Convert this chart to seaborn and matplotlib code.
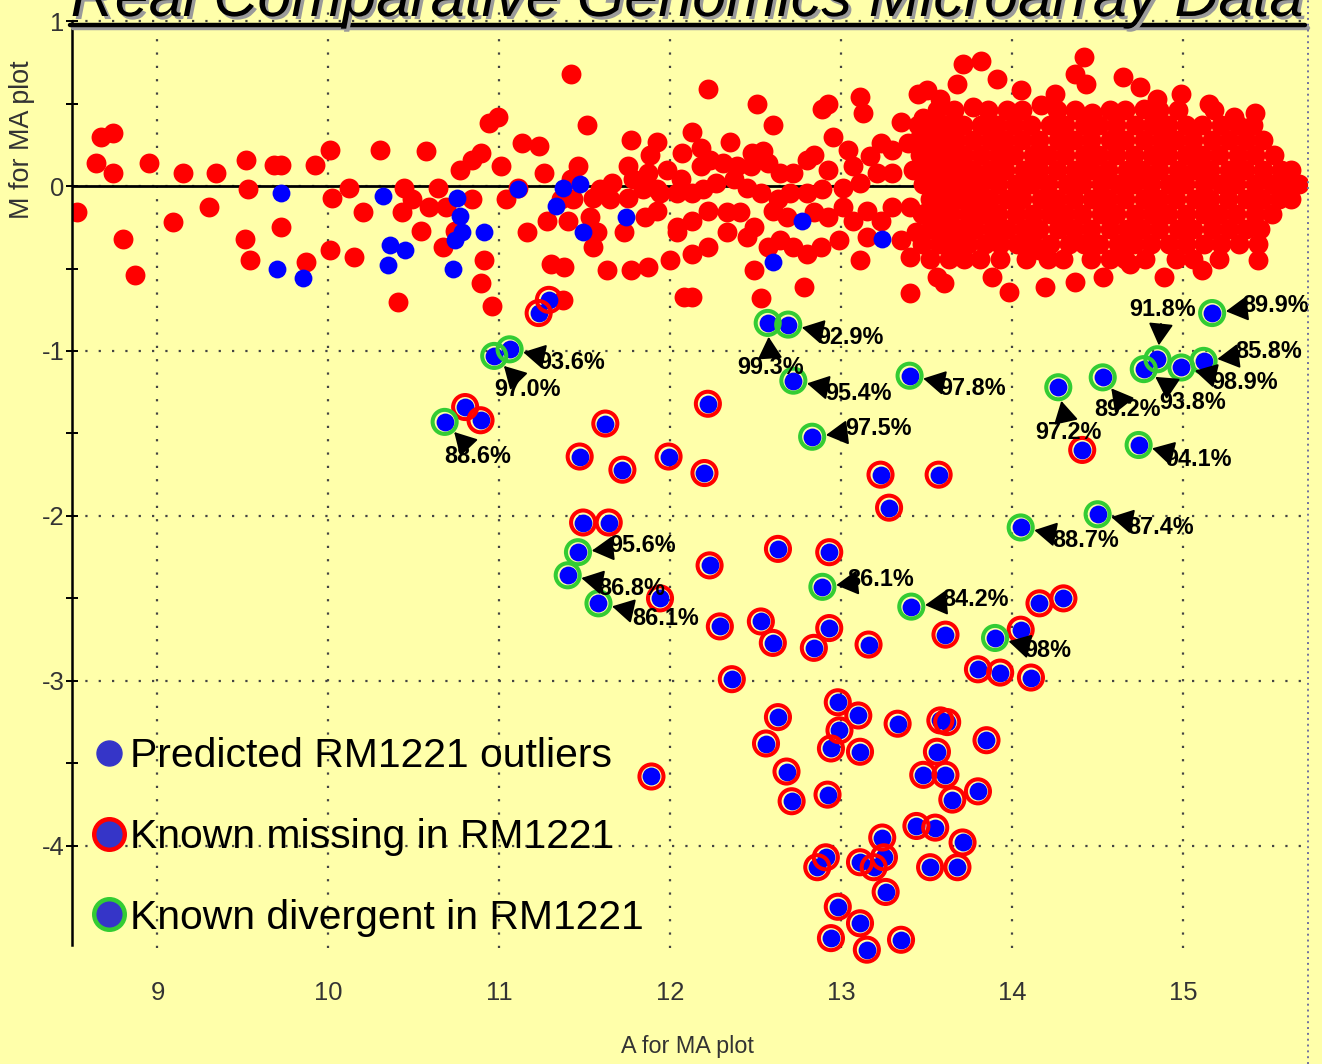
import matplotlib
matplotlib.use("Agg")
import numpy as np
import pandas as pd
import matplotlib.pyplot as plt
import matplotlib.patheffects as pe
from matplotlib.lines import Line2D
from matplotlib import font_manager
import seaborn as sns

# ---------------------------------------------------------------- data
# dense part of the red background cloud: one M value per row, A values per row
cloud_row_m = [0.46, 0.37, 0.28, 0.19, 0.10, 0.01, -0.08, -0.17, -0.26, -0.35, -0.44]
cloud_row_a = [
    [13.56, 13.66, 13.86, 13.97, 14.06, 14.26, 14.37, 14.57, 14.66, 14.86, 14.97, 15.18],
    [13.45, 13.53, 13.62, 13.71, 13.82, 13.91, 14.01, 14.11, 14.22, 14.31, 14.42, 14.51, 14.61, 14.72, 14.82, 14.91, 15.02, 15.11, 15.22, 15.32, 15.41],
    [13.50, 13.58, 13.67, 13.77, 13.87, 13.96, 14.06, 14.16, 14.27, 14.36, 14.46, 14.57, 14.66, 14.77, 14.87, 14.96, 15.06, 15.17, 15.27, 15.37, 15.47],
    [13.46, 13.55, 13.63, 13.72, 13.82, 13.92, 14.01, 14.12, 14.21, 14.31, 14.42, 14.51, 14.61, 14.71, 14.82, 14.91, 15.02, 15.11, 15.21, 15.32, 15.42, 15.53],
    [13.51, 13.60, 13.68, 13.77, 13.87, 13.96, 14.07, 14.16, 14.26, 14.37, 14.46, 14.56, 14.67, 14.76, 14.86, 14.97, 15.07, 15.16, 15.27, 15.36, 15.47, 15.57, 15.63],
    [13.48, 13.56, 13.64, 13.73, 13.82, 13.92, 14.02, 14.11, 14.21, 14.32, 14.41, 14.52, 14.62, 14.71, 14.81, 14.92, 15.01, 15.12, 15.22, 15.31, 15.42, 15.52, 15.61, 15.68],
    [13.52, 13.60, 13.69, 13.78, 13.87, 13.97, 14.06, 14.17, 14.26, 14.36, 14.47, 14.56, 14.66, 14.77, 14.86, 14.96, 15.07, 15.16, 15.26, 15.37, 15.46, 15.56, 15.63],
    [13.47, 13.56, 13.64, 13.74, 13.83, 13.92, 14.02, 14.12, 14.22, 14.31, 14.41, 14.52, 14.61, 14.72, 14.82, 14.91, 15.02, 15.12, 15.21, 15.31, 15.42, 15.52],
    [13.52, 13.61, 13.70, 13.78, 13.88, 13.97, 14.07, 14.16, 14.27, 14.36, 14.46, 14.57, 14.67, 14.76, 14.86, 14.97, 15.06, 15.17, 15.27, 15.37, 15.45],
    [13.47, 13.57, 13.66, 13.74, 13.84, 13.93, 14.03, 14.12, 14.22, 14.33, 14.42, 14.51, 14.62, 14.71, 14.81, 14.92, 15.02, 15.12, 15.22, 15.33],
    [13.52, 13.63, 13.72, 13.81, 13.93, 14.08, 14.21, 14.30, 14.46, 14.57, 14.66, 14.78, 14.96, 15.06, 15.21],
]

# scattered red background points (A, M)
red_left = [
    (8.53, -0.16), (8.64, 0.14), (8.67, 0.30), (8.74, 0.32), (8.74, 0.08), (8.80, -0.32), (8.87, -0.54),
    (8.95, 0.14), (9.09, -0.22), (9.15, 0.08), (9.30, -0.13), (9.34, 0.08), (9.52, 0.16), (9.53, -0.02),
    (9.51, -0.32), (9.54, -0.45), (9.68, 0.13), (9.72, 0.13), (9.72, -0.25), (9.87, -0.46), (9.92, 0.13),
    (10.01, 0.22), (10.02, -0.07), (10.01, -0.39), (10.15, -0.43), (10.12, -0.01), (10.20, -0.16),
    (10.30, 0.22), (10.41, -0.70), (10.44, -0.01), (10.43, -0.16), (10.57, 0.21), (10.54, -0.27),
    (10.67, -0.37), (10.64, -0.01), (10.77, 0.10), (10.84, 0.16), (10.89, 0.20), (10.94, 0.38),
    (10.99, 0.42), (10.96, -0.73), (10.89, -0.59), (11.01, 0.12), (11.04, -0.08), (11.13, 0.26),
    (11.23, 0.24), (11.16, -0.28), (11.28, -0.21), (11.30, -0.47), (11.38, -0.49), (11.42, 0.68),
    (11.51, 0.37), (11.46, 0.12), (11.53, -0.19), (11.55, -0.37), (11.63, -0.51), (11.77, 0.28),
    (11.77, -0.51), (11.87, -0.49), (11.73, -0.28), (11.85, -0.19), (11.92, -0.02), (10.91, -0.45),
    (10.74, -0.27), (11.11, -0.01), (11.26, 0.08), (11.36, -0.08), (10.84, -0.08), (10.69, -0.13),
    (10.49, -0.08), (10.59, -0.13),
]
red_mid = [
    (11.92, 0.27), (12.13, 0.33), (12.22, 0.59), (12.51, 0.50), (12.60, 0.37), (12.89, 0.47), (12.92, 0.50),
    (13.11, 0.54), (13.13, 0.44), (13.35, 0.39), (13.45, 0.56), (13.48, 0.41), (12.95, 0.30), (12.84, 0.19),
    (12.35, 0.27), (12.48, 0.20), (12.54, 0.21), (12.18, 0.23), (12.07, 0.20), (11.88, 0.19), (11.75, 0.12),
    (11.42, 0.04), (11.59, -0.02), (11.66, 0.02), (11.78, 0.04), (11.87, 0.08), (11.98, 0.10), (12.06, 0.04),
    (12.18, 0.12), (12.23, 0.16), (12.31, 0.14), (12.39, 0.12), (12.47, 0.12), (12.57, 0.14), (12.64, 0.08),
    (12.72, 0.08), (12.80, 0.16), (12.92, 0.10), (13.04, 0.22), (13.07, 0.12), (13.17, 0.18), (13.23, 0.26),
    (13.30, 0.22), (13.39, 0.26), (13.46, 0.30), (13.52, 0.12), (13.42, 0.10), (13.30, 0.08), (13.21, 0.08),
    (13.11, 0.02), (13.01, -0.01), (12.89, -0.02), (12.80, -0.04), (12.70, -0.04), (12.63, -0.08),
    (12.53, -0.04), (12.45, -0.01), (12.37, 0.04), (12.27, 0.02), (12.19, -0.02), (12.13, -0.04),
    (12.04, -0.04), (11.94, -0.04), (11.84, -0.02), (11.75, -0.07), (11.65, -0.08), (11.55, -0.07),
    (11.43, -0.08), (11.40, -0.21), (11.57, -0.28), (11.92, -0.15), (12.04, -0.25), (12.13, -0.21),
    (12.22, -0.15), (12.33, -0.16), (12.41, -0.16), (12.49, -0.25), (12.60, -0.15), (12.68, -0.19),
    (12.84, -0.16), (12.92, -0.19), (13.01, -0.13), (13.07, -0.21), (13.15, -0.15), (13.23, -0.21),
    (13.30, -0.13), (13.40, -0.13), (13.50, -0.16), (13.56, -0.25), (13.44, -0.28), (13.35, -0.33),
    (13.15, -0.31), (12.99, -0.33), (12.88, -0.37), (12.80, -0.41), (12.72, -0.37), (12.64, -0.33),
    (12.57, -0.37), (12.45, -0.31), (12.33, -0.28), (12.22, -0.37), (12.13, -0.41), (12.04, -0.28),
    (12.00, -0.45), (11.37, -0.69), (12.08, -0.67), (12.13, -0.67), (12.49, -0.51), (12.53, -0.68),
    (12.78, -0.61), (13.11, -0.45), (13.40, -0.43), (13.40, -0.65), (13.56, -0.55),
]
red_fringe = [
    (13.71, 0.74), (13.82, 0.76), (13.91, 0.65), (13.68, 0.62), (14.05, 0.58), (14.25, 0.56), (14.42, 0.78),
    (14.37, 0.68), (14.43, 0.62), (14.65, 0.66), (14.75, 0.60), (14.85, 0.53), (14.99, 0.56), (15.15, 0.50),
    (15.42, 0.44), (13.50, 0.58), (13.58, 0.53), (13.60, -0.59), (13.88, -0.55), (13.98, -0.64),
    (14.19, -0.61), (14.37, -0.58), (14.53, -0.55), (14.69, -0.47), (14.89, -0.55), (15.11, -0.51),
    (15.44, -0.45), (15.44, -0.35), (14.16, -0.39), (13.77, 0.48), (14.17, 0.49), (14.47, 0.44),
    (14.77, 0.47), (15.30, 0.42),
]

# predicted RM1221 outliers that are not known missing / divergent
pred_a = [9.72, 9.70, 9.85, 10.32, 10.36, 10.35, 10.45, 10.73, 10.75, 10.77, 10.78, 10.74, 10.91,
          11.11, 11.33, 11.37, 11.47, 11.49, 11.74, 12.60, 12.77, 13.24]
pred_m = [-0.04, -0.50, -0.56, -0.06, -0.36, -0.48, -0.39, -0.50, -0.07, -0.18, -0.28, -0.33, -0.28,
          -0.02, -0.12, -0.01, 0.01, -0.28, -0.19, -0.46, -0.21, -0.32]

# known missing in RM1221
missing_a = [11.23, 11.29, 10.80, 10.89, 11.62, 11.47, 11.72, 11.99, 12.22, 12.20, 11.49, 11.64, 12.23,
             12.63, 12.93, 13.23, 13.28, 13.57, 11.94, 12.29, 12.53, 12.60, 12.84, 12.93, 13.16, 13.61,
             14.16, 14.30, 14.05, 13.80, 13.93, 14.11, 14.41, 12.36, 11.89, 12.98, 13.10, 12.63, 12.99,
             13.33, 13.58, 13.62, 12.94, 13.11, 13.56, 13.85, 12.56, 12.68, 13.48, 13.61, 12.71, 12.92,
             13.65, 13.80, 13.24, 13.44, 13.55, 13.71, 12.91, 12.86, 13.11, 13.25, 13.19, 13.52, 13.68,
             13.26, 12.98, 13.11, 12.94, 13.15, 13.35]
missing_m = [-0.77, -0.69, -1.34, -1.42, -1.44, -1.64, -1.72, -1.64, -1.32, -1.74, -2.04, -2.04, -2.30,
             -2.20, -2.22, -1.75, -1.95, -1.75, -2.50, -2.67, -2.64, -2.77, -2.80, -2.68, -2.78, -2.72,
             -2.53, -2.50, -2.69, -2.93, -2.95, -2.98, -1.60, -2.99, -3.58, -3.13, -3.21, -3.22, -3.30,
             -3.26, -3.24, -3.25, -3.41, -3.43, -3.43, -3.36, -3.38, -3.55, -3.57, -3.57, -3.73, -3.69,
             -3.72, -3.67, -3.95, -3.88, -3.89, -3.98, -4.07, -4.13, -4.10, -4.07, -4.13, -4.13, -4.13,
             -4.28, -4.37, -4.47, -4.56, -4.63, -4.57]

# known divergent in RM1221
divergent_a = [10.97, 11.06, 10.68, 12.57, 12.69, 12.72, 12.83, 13.40, 14.27, 14.53, 14.77, 14.85,
               14.99, 15.12, 15.17, 14.74, 14.05, 14.50, 11.46, 11.40, 11.58, 12.89, 13.41, 13.90]
divergent_m = [-1.03, -0.99, -1.43, -0.83, -0.84, -1.18, -1.52, -1.15, -1.22, -1.16, -1.11, -1.05,
               -1.10, -1.06, -0.77, -1.57, -2.07, -1.99, -2.22, -2.36, -2.53, -2.43, -2.55, -2.74]

# percentage labels of divergent genes (text, index into divergent list)
label_text = ["93.6%", "97.0%", "88.6%", "92.9%", "99.3%", "95.4%", "97.5%", "97.8%", "97.2%",
              "89.2%", "91.8%", "93.8%", "98.9%", "85.8%", "89.9%", "94.1%", "88.7%", "87.4%",
              "95.6%", "86.8%", "86.1%", "86.1%", "84.2%", "98%"]
label_target = [1, 0, 2, 4, 3, 5, 6, 7, 8, 9, 11, 10, 12, 13, 14, 15, 16, 17, 18, 19, 20, 21, 22, 23]

x_ticks = [9, 10, 11, 12, 13, 14, 15]
y_ticks = [1, 0, -1, -2, -3, -4]
y_tick_labels = ["1", "0", "-1", "-2", "-3", "-4"]
legend_labels = ["Predicted RM1221 outliers", "Known missing in RM1221", "Known divergent in RM1221"]
title_text = "Real Comparative Genomics Microarray Data"

# label placement (pixels right / down of the labelled point) -- layout only
label_dx = [62, 33, 33, 62, 3, 65, 66, 63, 10, 25, 5, 49, 63, 65, 63, 60, 65, 63, 65, 64, 67, 58, 64, 53]
label_dy = [13, 34, 35, 13, 45, 13, -8, 13, 45, 32, -50, 33, 15, -9, -8, 15, 13, 13, -7, 13, 15, -7, -7, 13]

# ---------------------------------------------------------------- tables
cloud_a, cloud_m = [], []
for m_val, row in zip(cloud_row_m, cloud_row_a):
    cloud_a.extend(row)
    cloud_m.extend([m_val] * len(row))
scatter_pts = red_left + red_mid + red_fringe
red_df = pd.DataFrame({"A": cloud_a + [p[0] for p in scatter_pts],
                       "M": cloud_m + [p[1] for p in scatter_pts]})
pred_df = pd.DataFrame({"A": pred_a, "M": pred_m})
miss_df = pd.DataFrame({"A": missing_a, "M": missing_m})
div_df = pd.DataFrame({"A": divergent_a, "M": divergent_m})
blue_df = pd.concat([pred_df, miss_df, div_df], ignore_index=True)

# ---------------------------------------------------------------- style
BG = "#FFFFAA"
RED = "#FF0000"
BLUE = "#0000FF"
GREEN = "#33CC33"
LEG_BLUE = "#3535C8"

sns.set_theme(style="white", rc={"axes.facecolor": BG, "figure.facecolor": BG,
                                 "savefig.facecolor": BG, "text.color": "black"})
names = {f.name for f in font_manager.fontManager.ttflist}
NARROW = "Liberation Sans Narrow" if "Liberation Sans Narrow" in names else "Liberation Sans"
k = 1.0 if NARROW == "Liberation Sans Narrow" else 0.84
plt.rcParams["font.family"] = [NARROW, "DejaVu Sans"]
plt.rcParams["axes.unicode_minus"] = False

W, H = 1322, 1064
fig = plt.figure(figsize=(W / 100, H / 100), dpi=100)
ax = fig.add_axes([72 / W, 0.109, (1307 - 72) / W, 0.882])
ax.set_facecolor(BG)

# points
sns.scatterplot(data=red_df, x="A", y="M", ax=ax, color=RED, s=205, linewidth=0,
                legend=False, zorder=2)
sns.scatterplot(data=blue_df, x="A", y="M", ax=ax, color=BLUE, s=165, linewidth=0,
                legend=False, zorder=3, clip_on=False)
sns.scatterplot(data=miss_df, x="A", y="M", ax=ax, s=300, facecolors="none", edgecolor=RED,
                linewidth=2.9, legend=False, zorder=4, clip_on=False)
sns.scatterplot(data=div_df, x="A", y="M", ax=ax, s=300, facecolors="none", edgecolor=GREEN,
                linewidth=2.9, legend=False, zorder=4, clip_on=False)

ax.axhline(0, color="black", lw=2.0, zorder=1.5)

# axes, grid, ticks
ax.set_xlim(8.5, 15.725)
ax.set_ylim(-4.62, 1.07)
ax.set_xticks(x_ticks)
ax.set_xticklabels([str(t) for t in x_ticks])
ax.set_yticks(y_ticks)
ax.set_yticklabels(y_tick_labels)
ax.set_yticks([v + 0.5 for v in y_ticks[1:]] + [0.5], minor=True)
ax.grid(True, which="major", color="#444444", lw=1.6, ls=(0, (1, 5)), zorder=0.5)
ax.set_axisbelow(True)
for side in ["top", "right", "bottom"]:
    ax.spines[side].set_visible(False)
ax.spines["left"].set_color("black")
ax.spines["left"].set_linewidth(1.8)
ax.spines["left"].set_bounds(-4.6, 1.0)
ax.tick_params(axis="y", which="both", direction="inout", length=9, width=1.4,
               color="black", labelsize=22 * k, labelcolor="#333333", pad=1, left=True)
ax.tick_params(axis="x", length=0, labelsize=22 * k, labelcolor="#333333", pad=24)

ax.set_xlabel("A for MA plot", fontsize=20 * k, color="#333333")
ax.xaxis.set_label_coords((687 - 72) / 1235, -0.105)
ax.xaxis.label.set_va("center")
ax.set_ylabel("M for MA plot", fontsize=23 * k, color="#333333")
ax.yaxis.set_label_coords(-0.0405, 0.861)
ax.yaxis.label.set_va("center")

# percentage annotations
for txt, idx, dx, dy in zip(label_text, label_target, label_dx, label_dy):
    ax.annotate(txt, xy=(divergent_a[idx], divergent_m[idx]),
                xytext=(dx * 0.72, -dy * 0.72), textcoords="offset points",
                ha="center", va="center", fontsize=20 * k, fontweight="bold",
                color="black", zorder=6,
                arrowprops=dict(arrowstyle="-|>,head_length=0.8,head_width=0.45",
                                color="black", lw=1.4, shrinkA=0, shrinkB=10,
                                mutation_scale=17))

# legend
handles = [
    Line2D([], [], ls="none", marker="o", ms=18, mfc=LEG_BLUE, mec=LEG_BLUE),
    Line2D([], [], ls="none", marker="o", ms=22, mfc=LEG_BLUE, mec=RED, mew=3.2),
    Line2D([], [], ls="none", marker="o", ms=22, mfc=LEG_BLUE, mec=GREEN, mew=3.2),
]
ax.legend(handles, legend_labels, loc="upper left",
          bbox_to_anchor=(93 / W, 1 - 737 / H), bbox_transform=fig.transFigure,
          frameon=False, prop={"family": NARROW, "size": 35 * k}, labelcolor="black",
          handlelength=0.8, handletextpad=0.1, labelspacing=0.6 if k == 1.0 else 1.05,
          borderpad=0, borderaxespad=0)

# title (cut at the top edge, italic, underlined, shadowed)
fig.text(687.5 / W, 1 - 16 / H, title_text, ha="center", va="baseline", fontsize=44,
         style="italic", family="Liberation Sans", color="black",
         path_effects=[pe.withSimplePatchShadow(offset=(2.2, -2.2), shadow_rgbFace="#9a9a9a",
                                                alpha=1.0)])
fig.add_artist(Line2D([70 / W, 1305 / W], [1 - 25 / H] * 2, transform=fig.transFigure,
                      color="black", lw=3.2,
                      path_effects=[pe.SimpleLineShadow(offset=(2, -2), shadow_color="#9a9a9a",
                                                        alpha=1.0), pe.Normal()]))
# dotted right border
fig.add_artist(Line2D([1308 / W] * 2, [0, 1], transform=fig.transFigure,
                      color="#7070a0", lw=1.4, ls=(0, (1, 2))))

fig.savefig("out.png", dpi=100, facecolor=BG)
